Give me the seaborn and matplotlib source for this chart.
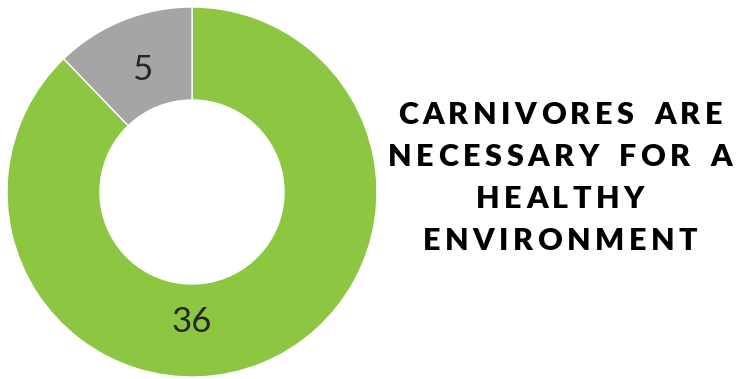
"""
Donut chart: carnivores are necessary for a healthy environment
"""

import matplotlib
matplotlib.use("Agg")
import matplotlib.pyplot as plt
import seaborn as sns

# Data
categories = ["Agree", "Disagree"]
counts = [36, 5]
colors = ["#8DC641", "#A5A5A5"]
title_lines = ["CARNIVORES ARE", "NECESSARY FOR A", "HEALTHY", "ENVIRONMENT"]

sns.set_theme(style="white")
plt.rcParams['font.family'] = ['Lato', 'DejaVu Sans']

W, H = 736, 379
fig = plt.figure(figsize=(W / 100, H / 100), dpi=100)
ax = fig.add_axes([0, 0, 1, 1])

# donut, drawn in pixel-like data units
ax.pie(counts, colors=colors, startangle=90, counterclock=False,
       center=(192, H - 192), radius=185,
       wedgeprops=dict(width=93, edgecolor="white", linewidth=1))
ax.set_xlim(0, W)
ax.set_ylim(0, H)
ax.set_aspect("equal")
ax.axis("off")

# value labels
ax.text(192, H - 322, str(counts[0]), ha="center", va="center",
        fontsize=25, fontweight="normal", color="#262626")
ax.text(142, H - 70, str(counts[1]), ha="center", va="center",
        fontsize=25, fontweight="normal", color="#262626")

# letter-spaced title, drawn character by character
fig.canvas.draw()
renderer = fig.canvas.get_renderer()
line_y = [115, 157, 199, 241]
cx = 560
fs = 22
tracking = 4.5
for line, y in zip(title_lines, line_y):
    widths = []
    for ch in line:
        t = ax.text(0, 0, ch if ch != " " else "I", fontsize=fs, fontweight="heavy")
        bb = t.get_window_extent(renderer)
        t.remove()
        widths.append(bb.width * (1.2 if ch == " " else 1.0))
    total = sum(widths) + tracking * (len(line) - 1)
    x = cx - total / 2
    for ch, w in zip(line, widths):
        if ch != " ":
            ax.text(x, H - y, ch, fontsize=fs, fontweight="heavy",
                    ha="left", va="center", color="black")
        x += w + tracking

fig.savefig("out.png", dpi=100)
